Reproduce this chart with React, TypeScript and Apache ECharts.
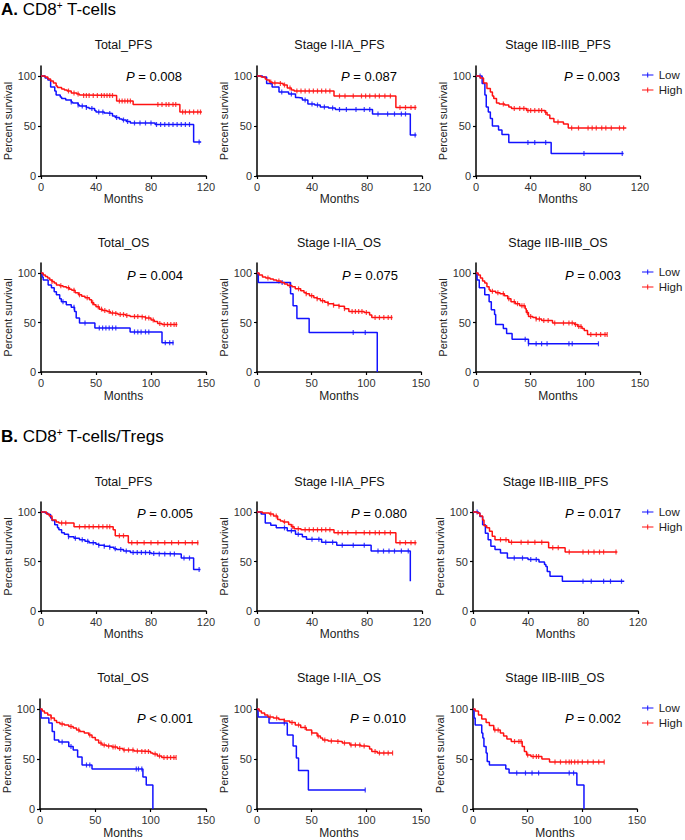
import React, { useEffect, useRef } from "react";
import * as echarts from "echarts";

type Pt = [number, number];

const FONT = "'Liberation Sans', Arial, Helvetica, sans-serif";
const RED = "#ff1212";
const BLUE = "#1212ff";

// ---------- texts ----------
const sectionTags = ["A.", "B."];
const sectionMain = ["CD8", "CD8"];
const sectionSup = ["+", "+"];
const sectionRest = [" T-cells", " T-cells/Tregs"];
const panelTitles = ["Total_PFS", "Stage I-IIA_PFS", "Stage IIB-IIIB_PFS", "Total_OS", "Stage I-IIA_OS", "Stage IIB-IIIB_OS"];
const pValues = [
  "= 0.008", "= 0.087", "= 0.003",
  "= 0.004", "= 0.075", "= 0.003",
  "= 0.005", "= 0.080", "= 0.017",
  "< 0.001", "= 0.010", "= 0.002",
];
const xTicksPFS = [0, 40, 80, 120];
const xTicksOS = [0, 50, 100, 150];
const yTicks = [0, 50, 100];
const yMax = 110;
const xAxisName = "Months";
const yAxisName = "Percent survival";
const groupLow = "Low";
const groupHigh = "High";

// ---------- A. CD8+ T-cells ----------
const aTotalPfsHigh: Pt[] = [[0,100],[3,99],[5,97],[7,95],[9,93],[11,90],[12,88.5],[15,87],[17,86],[19,85],[22,83],[26,82],[28,81],[30,80.5],[55,75],[67,71.5],[101,64],[117,64]];
const aTotalPfsHighCens = [20,24,27,31,33,35,38,41,44,46,48,50,52,57,59,61,63,65,85,88,91,93,96,98,103,105,108,111,114,116];
const aTotalPfsLow: Pt[] = [[0,100],[3,98],[5,96],[7,89],[10,85],[11,81],[14,79],[15,77.5],[18,76],[22,74],[23,73],[27,71],[28,70],[33,68.5],[35,67.5],[39,65.5],[40,64],[46,63],[48,62.5],[52,60],[54,58.5],[57,57],[59,56],[62,54.5],[65,53],[83,51.5],[111,34],[116.5,34]];
const aTotalPfsLowCens = [22,27,30,33,37,42,45,50,55,60,63,68,72,76,80,84,87,90,93,96,99,102,105,108,115];

const aStage1PfsHigh: Pt[] = [[0,100],[3,99],[6,97],[7,96],[9,94],[11,93],[15,92.5],[19,91],[22,88],[25,86],[27,85],[56,80],[101,68.5],[116,68.5]];
const aStage1PfsHighCens = [10,13,17,20,24,29,32,35,38,41,44,47,50,53,60,64,70,76,79,82,86,89,93,97,104,108,112,115];
const aStage1PfsLow: Pt[] = [[0,100],[4,99],[7,92.5],[11,89],[16,84],[23,82],[28,78.5],[30,78],[33,76],[37,72],[42,71],[46,69],[52,68],[57,66.5],[84,62],[111.5,41],[116,41]];
const aStage1PfsLowCens = [18,25,35,40,44,49,55,60,65,72,78,82,88,95,100,105,108,115];

const aStage2PfsHigh: Pt[] = [[0,100],[3,98],[5.5,93],[8,87.5],[10.5,84],[12,80],[13,77.5],[15,73],[17,72],[21,71],[24,69],[26,67.5],[37,65.5],[50.5,63.5],[52,61],[54,57.5],[57,54],[64,52],[67.5,48],[110,48]];
const aStage2PfsHighCens = [20,28,32,35,38,40,43,46,48,51,60,70,75,82,85,88,92,95,99,105,108];
const aStage2PfsLow: Pt[] = [[0,100],[4.5,92.5],[6.5,81],[7.5,69],[9,64],[10.5,57.5],[12,50],[16.5,46],[19,41.5],[24,33.5],[55,22.5],[108,22.5]];
const aStage2PfsLowCens = [3,38,43,51,79,107];

const aTotalOsHigh: Pt[] = [[0,100],[2,98],[4,96.5],[6,95],[8,93],[10,91.5],[12,90],[14,88],[17,87],[20,86],[23,85],[26,83.5],[28,82.5],[31,80],[34,78],[37,76.5],[40,75],[44,73],[46,70],[48,68],[50,66],[53,63.5],[56,62],[60,61],[63,59.6],[66,59],[70,58],[77,57],[81,56],[90,55.5],[95,54.5],[100,52.5],[103,51],[106,49],[110,48],[124,48]];
const aTotalOsHighCens = [10,18,25,30,35,42,47,52,55,58,62,65,68,72,75,78,85,88,92,95,98,102,108,112,115,118,121,123];
const aTotalOsLow: Pt[] = [[0,100],[1,96],[2,93],[6.5,88],[9.5,85],[12,81],[14,78],[17,74],[18.5,71],[23,68],[27.5,65.5],[30.5,61],[32,54.5],[35,49.5],[49,44.5],[81,40.5],[110,29.5],[120.5,29.5]];
const aTotalOsLowCens = [20,30,40,53,56,59,62,65,68,85,88,91,95,98,113,117,120];

const aStage1OsHigh: Pt[] = [[0,100],[2,98],[5,96],[8,95],[12,94],[15,93],[18,92],[22,90.5],[25,89],[28,87.5],[32,86],[35,84],[40,82],[43,80],[45,79],[48,77],[52,75],[55,74],[58,72],[62,70.5],[65,69],[70,67.5],[75,66.5],[80,64],[84,61],[98,60],[103,57.5],[105,55],[124,55]];
const aStage1OsHighCens = [10,20,30,38,45,50,55,60,65,70,75,80,87,90,93,96,100,108,112,116,120,123];
const aStage1OsLow: Pt[] = [[0,100],[1.2,90.5],[30.7,79],[33,67],[36.5,54],[47.7,40],[110,0]];
const aStage1OsLowCens = [23,88,99];

const aStage2OsHigh: Pt[] = [[0,100],[2,98],[4,95],[6,92],[8,90],[10,86],[12,83],[13,81.5],[18,80],[22,79],[26,77],[29,74],[32,71],[36,69],[40,67],[45,64],[46,60],[48,56],[52,55],[55,53.5],[60,52],[70,49.5],[90,48],[93,46],[97,44],[99,42],[102,38],[120,38]];
const aStage2OsHighCens = [15,20,25,30,35,38,42,44,47,50,55,58,62,66,72,80,85,88,91,94,96,105,110,114,118,120];
const aStage2OsLow: Pt[] = [[0,100],[1,93],[3,85],[8,78],[12,71],[14,63],[17,58],[18,48],[25,44],[28,39],[33,33],[48,28.5],[112,28.5]];
const aStage2OsLowCens = [45,48,55,60,65,85,88,112];

// ---------- B. CD8+ T-cells/Tregs ----------
const bTotalPfsHigh: Pt[] = [[0,100],[4,98],[6,96],[8,92],[11,90],[13,89],[24,85],[52.5,82],[54,76],[63.5,69],[114.5,69]];
const bTotalPfsHighCens = [15,18,28,32,35,38,42,45,48,50,57,60,66,70,75,80,85,90,95,100,105,110,114];
const bTotalPfsLow: Pt[] = [[0,100],[3,99],[5,97.5],[7,94],[8,91.5],[10,87],[12,84],[13,82],[15,79],[17,77.5],[20,75],[24,73.5],[28,72],[32,70.5],[35,69],[40,67.5],[42,66.5],[46,65.5],[50,64.5],[53,63],[55,62],[60,60.5],[65,59],[80,58],[85,57.5],[102,53.5],[111,42],[116,42]];
const bTotalPfsLowCens = [20,25,30,34,38,42,46,50,54,58,62,67,70,73,76,79,82,86,90,94,97,104,108,115];

const bStage1PfsHigh: Pt[] = [[0,100],[4,99],[9,98],[12,96],[15,92.5],[17,91],[19,90],[23,87.5],[25,85],[27,83],[32,82],[56,79],[101,69],[116,69]];
const bStage1PfsHighCens = [10,14,20,26,30,35,38,41,44,47,50,53,59,62,66,72,78,82,86,89,93,97,104,108,112,115];
const bStage1PfsLow: Pt[] = [[0,100],[3,98],[6,89],[10,86.5],[14,84],[22,81],[28,77.5],[33,75],[36,72.5],[47,69.5],[58,66.5],[83,60.5],[111.5,30]];
const bStage1PfsLowCens = [20,25,30,40,45,50,55,62,70,78,88,92,96,100,105,110];

const bStage2PfsHigh: Pt[] = [[0,100],[3,99],[5,96],[7,92],[8,86],[10,84],[12,80.5],[14,75.5],[16,72],[26,69.5],[55,64],[67,59.5],[105,59.5]];
const bStage2PfsHighCens = [20,24,28,35,40,45,50,58,62,70,80,84,88,92,95,104];
const bStage2PfsLow: Pt[] = [[0,100],[4,99],[5,95.5],[7,87],[9,78.5],[11,72],[13,65.5],[16,62],[20,58.5],[25,53.5],[40,52],[48,49.5],[52,47],[53,45],[54,40],[56,35],[65,30],[110,30]];
const bStage2PfsLowCens = [3,30,36,42,46,80,86,95,100,108];

const bTotalOsHigh: Pt[] = [[0,100],[2,98],[4,96],[7,94],[10,91],[13,88.5],[15,86.5],[18,85],[22,84],[26,82.5],[30,81],[33,79],[36,77.5],[40,76],[44,74],[47,71.5],[50,69],[53,66],[56,64],[60,63],[65,62],[70,60.5],[75,59],[85,58],[90,57.5],[100,56],[102,55],[106,53],[110,51.5],[123,51.5]];
const bTotalOsHighCens = [10,20,28,35,45,55,58,62,66,68,72,76,80,84,88,92,95,98,104,108,112,115,118,121,123];
const bTotalOsLow: Pt[] = [[0,100],[1,91],[8,86],[11,77.5],[13,69],[17,67],[26,62.5],[30,59],[34,52],[38,44],[47,40],[93,32],[96,24],[102,0]];
const bTotalOsLowCens = [20,28,42,45,87,89,92];

const bStage1OsHigh: Pt[] = [[0,100],[2,98],[4,96],[7,94],[10,92],[15,91],[20,89.5],[25,88],[30,86.5],[35,84],[40,81.5],[45,79],[50,76],[55,73],[58,71],[60,69],[65,68],[70,67.5],[78,66],[85,64],[95,63],[100,62.5],[103,60],[105,57.5],[110,56],[124,56]];
const bStage1OsHighCens = [12,18,25,32,38,44,50,56,62,68,74,80,86,90,94,98,108,112,116,120,124];
const bStage1OsLow: Pt[] = [[0,100],[1,92],[11,86],[27.7,74],[33,63],[36,51],[38,38.5],[47,19],[99,19]];
const bStage1OsLowCens = [25,99];

const bStage2OsHigh: Pt[] = [[0,100],[2,98],[5,94],[8,90],[12,86.5],[15,83.5],[19,79],[25,76],[28,73],[31,70],[35,67.5],[45,62.5],[47,57.5],[49,54],[53,52.5],[63,50],[70,47],[120,47]];
const bStage2OsHighCens = [20,23,38,42,44,50,55,58,60,75,80,85,88,90,93,96,100,105,110,115,120];
const bStage2OsLow: Pt[] = [[0,100],[1,91],[2,84],[8,76],[9,71],[10,62.5],[12,56],[13,47.5],[15,44],[30,40],[33,36],[95,24],[101.5,0]];
const bStage2OsLowCens = [40,48,54,60,88,92];

const lowCurves = [aTotalPfsLow, aStage1PfsLow, aStage2PfsLow, aTotalOsLow, aStage1OsLow, aStage2OsLow, bTotalPfsLow, bStage1PfsLow, bStage2PfsLow, bTotalOsLow, bStage1OsLow, bStage2OsLow];
const lowCens = [aTotalPfsLowCens, aStage1PfsLowCens, aStage2PfsLowCens, aTotalOsLowCens, aStage1OsLowCens, aStage2OsLowCens, bTotalPfsLowCens, bStage1PfsLowCens, bStage2PfsLowCens, bTotalOsLowCens, bStage1OsLowCens, bStage2OsLowCens];
const highCurves = [aTotalPfsHigh, aStage1PfsHigh, aStage2PfsHigh, aTotalOsHigh, aStage1OsHigh, aStage2OsHigh, bTotalPfsHigh, bStage1PfsHigh, bStage2PfsHigh, bTotalOsHigh, bStage1OsHigh, bStage2OsHigh];
const highCens = [aTotalPfsHighCens, aStage1PfsHighCens, aStage2PfsHighCens, aTotalOsHighCens, aStage1OsHighCens, aStage2OsHighCens, bTotalPfsHighCens, bStage1PfsHighCens, bStage2PfsHighCens, bTotalOsHighCens, bStage1OsHighCens, bStage2OsHighCens];

// ---------- layout (pixels) ----------
const ROWS = [
  { y100: 76, y0: 176, titleY: 45, pY: 76, nameGap: 14, legendTop: 69, cols: [[41, 206], [257, 422], [476, 640]], pX: [126, 341, 564] },
  { y100: 273, y0: 372, titleY: 243, pY: 275, nameGap: 18, legendTop: 266, cols: [[41, 206], [257, 421], [476, 640]], pX: [127, 342, 565] },
  { y100: 512, y0: 611, titleY: 482, pY: 513, nameGap: 14, legendTop: 506, cols: [[41, 206], [257, 422], [473, 638]], pX: [137, 351, 565] },
  { y100: 709, y0: 809, titleY: 678, pY: 718, nameGap: 18, legendTop: 702, cols: [[40, 206], [257, 421], [473, 637]], pX: [137, 350, 565] },
];
const Y_NAME_GAP = [20, 26, 26];
const HEADER_Y = [0, 427];
const LEGEND_LEFT = 642;
const TICK_ICON = "path://M0,4.2 L16,4.2 L16,5.8 L0,5.8 Z M7.3,1.5 L8.7,1.5 L8.7,8.5 L7.3,8.5 Z";

function valueAt(curve: Pt[], t: number): number {
  let v = curve[0][1];
  for (const [x, y] of curve) {
    if (x <= t) v = y;
    else break;
  }
  return v;
}

function buildOption() {
  const grid: any[] = [];
  const xAxis: any[] = [];
  const yAxis: any[] = [];
  const series: any[] = [];
  const graphic: any[] = [];
  const legend: any[] = [];

  [0, 1].forEach((s) => {
    graphic.push({
      type: "text",
      x: 1,
      y: HEADER_Y[s],
      silent: true,
      style: {
        text: `{b|${sectionTags[s]}}{n| ${sectionMain[s]}}{s|${sectionSup[s]}}{n|${sectionRest[s]}}`,
        fontSize: 17,
        fontFamily: FONT,
        fill: "#000",
        rich: {
          b: { fontSize: 17, fontFamily: FONT, fontWeight: "bold", lineHeight: 18 },
          n: { fontSize: 17, fontFamily: FONT, lineHeight: 18 },
          s: { fontSize: 10, fontFamily: FONT, verticalAlign: "top", lineHeight: 9 },
        },
      },
    });
  });

  ROWS.forEach((row, r) => {
    const isOS = r % 2 === 1;
    const xt = isOS ? xTicksOS : xTicksPFS;
    row.cols.forEach(([x0, x1], c) => {
      const i = r * 3 + c;
      const pxPerUnit = (row.y0 - row.y100) / 100;
      const top = row.y100 - (yMax - 100) * pxPerUnit;
      grid.push({ left: x0, top, width: x1 - x0, height: row.y0 - top, containLabel: false });
      xAxis.push({
        type: "value",
        gridIndex: i,
        min: xt[0],
        max: xt[xt.length - 1],
        interval: xt[1] - xt[0],
        name: xAxisName,
        nameLocation: "middle",
        nameGap: row.nameGap,
        nameTextStyle: { fontSize: 12, fontFamily: FONT, color: "#222" },
        axisLine: { show: true, onZero: false, lineStyle: { color: "#000", width: 1.5 } },
        axisTick: { show: true, length: 3, lineStyle: { color: "#000", width: 1.2 } },
        axisLabel: { fontSize: 11, fontFamily: FONT, color: "#333", margin: 5 },
        splitLine: { show: false },
      });
      yAxis.push({
        type: "value",
        gridIndex: i,
        min: 0,
        max: yMax,
        interval: 50,
        name: yAxisName,
        nameLocation: "middle",
        nameGap: Y_NAME_GAP[c],
        nameTextStyle: { fontSize: 11, fontFamily: FONT, color: "#222" },
        axisLine: { show: true, onZero: false, lineStyle: { color: "#000", width: 1.5 } },
        axisTick: { show: true, length: 3, customValues: yTicks, lineStyle: { color: "#000", width: 1.2 } },
        axisLabel: { fontSize: 11, fontFamily: FONT, color: "#333", margin: 5, customValues: yTicks },
        splitLine: { show: false },
      });

      const groups = [
        { name: groupLow, color: BLUE, curve: lowCurves[i], cens: lowCens[i] },
        { name: groupHigh, color: RED, curve: highCurves[i], cens: highCens[i] },
      ];
      groups.forEach((g) => {
        series.push({
          type: "line",
          name: g.name,
          xAxisIndex: i,
          yAxisIndex: i,
          step: "end",
          symbol: "none",
          showSymbol: false,
          data: g.curve,
          color: g.color,
          itemStyle: { color: g.color },
          lineStyle: { color: g.color, width: 1.5 },
          silent: true,
        });
        series.push({
          type: "scatter",
          name: g.name + " censored",
          xAxisIndex: i,
          yAxisIndex: i,
          symbol: "rect",
          symbolSize: [1.2, 5],
          data: g.cens.map((t) => [t, valueAt(g.curve, t)]),
          itemStyle: { color: g.color },
          silent: true,
        });
      });

      graphic.push({
        type: "text",
        x: (x0 + x1) / 2,
        y: row.titleY,
        silent: true,
        style: {
          text: panelTitles[(r % 2) * 3 + c],
          fontSize: 12.5,
          fontFamily: FONT,
          fill: "#111",
          align: "center",
          verticalAlign: "middle",
          textAlign: "center",
          textVerticalAlign: "middle",
        },
      });
      graphic.push({
        type: "text",
        x: row.pX[c],
        y: row.pY,
        silent: true,
        style: {
          text: `{i|P}{n| ${pValues[i]}}`,
          fontSize: 13,
          fontFamily: FONT,
          fill: "#000",
          align: "left",
          verticalAlign: "middle",
          textAlign: "left",
          textVerticalAlign: "middle",
          rich: {
            i: { fontSize: 13, fontFamily: FONT, fontStyle: "italic", fill: "#000" },
            n: { fontSize: 13, fontFamily: FONT, fill: "#000" },
          },
        },
      });
    });

    legend.push({
      orient: "vertical",
      left: LEGEND_LEFT,
      top: row.legendTop,
      itemWidth: 14,
      itemHeight: 5,
      itemGap: 3,
      padding: 0,
      icon: TICK_ICON,
      selectedMode: false,
      data: [groupLow, groupHigh],
      textStyle: { fontSize: 11.5, fontFamily: FONT, color: "#222", padding: [0, 0, 0, -1] },
    });
  });

  return {
    animation: false,
    backgroundColor: "#fff",
    grid,
    xAxis,
    yAxis,
    legend,
    series,
    graphic,
  };
}

export default function App() {
  const ref = useRef<HTMLDivElement>(null);
  useEffect(() => {
    if (!ref.current) return;
    const chart = echarts.init(ref.current, null, { renderer: "svg", width: 685, height: 840 });
    chart.setOption(buildOption() as any);
    return () => chart.dispose();
  }, []);
  return (
    <div
      ref={ref}
      style={{ position: "absolute", left: 0, top: 0, width: 685, height: 840, background: "#fff" }}
    />
  );
}
